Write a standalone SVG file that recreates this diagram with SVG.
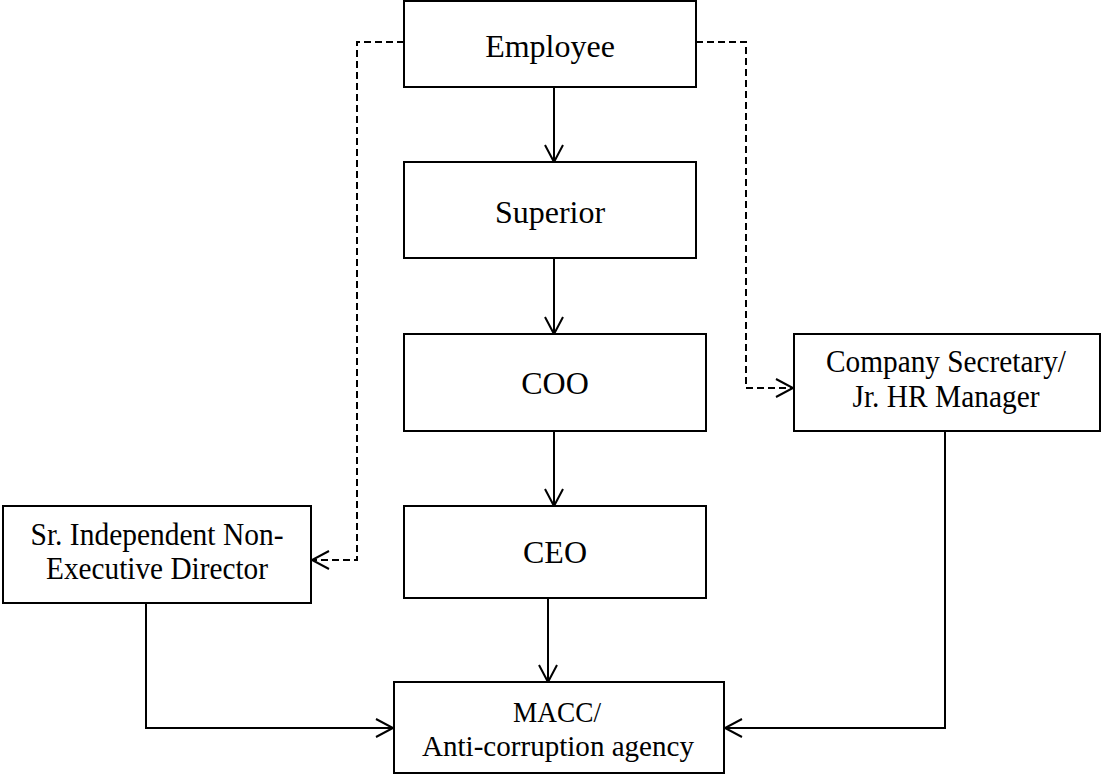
<svg xmlns="http://www.w3.org/2000/svg" width="1102" height="775" viewBox="0 0 1102 775">
<style>
.box{fill:#fff;stroke:#000;stroke-width:2}
.t{font-family:"Liberation Serif","Times New Roman",serif;font-size:32px;fill:#000;text-anchor:middle}
.s{font-size:30px}
.c{fill:none;stroke:#000;stroke-width:2}
.d{stroke-dasharray:7 4}
</style>
<defs>
<marker id="arr" markerUnits="userSpaceOnUse" markerWidth="24" markerHeight="24" viewBox="-20 -12 24 24" refX="0" refY="0" orient="auto">
<path d="M-17,-9 L0,0 L-17,9" fill="none" stroke="#000" stroke-width="2"/>
</marker>
</defs>
<rect width="1102" height="775" fill="#fff"/>
<g id="connectors">
<path class="c" d="M554,87 L554,162" marker-end="url(#arr)"/>
<path class="c" d="M554,258 L554,334" marker-end="url(#arr)"/>
<path class="c" d="M554,431 L554,506" marker-end="url(#arr)"/>
<path class="c" d="M548,598 L548,682" marker-end="url(#arr)"/>
<path class="c d" d="M404,42 L357,42 L357,560 L312,560" marker-end="url(#arr)"/>
<path class="c d" d="M696,42 L746,42 L746,388 L793,388" marker-end="url(#arr)"/>
<path class="c" d="M146,603 L146,728 L393,728" marker-end="url(#arr)"/>
<path class="c" d="M945,431 L945,728 L725,728" marker-end="url(#arr)"/>
</g>
<g id="employee">
<rect class="box" x="404" y="1" width="292" height="86"/>
<text class="t" x="550" y="57">Employee</text>
</g>
<g id="superior">
<rect class="box" x="404" y="162" width="292" height="96"/>
<text class="t" x="550" y="223">Superior</text>
</g>
<g id="coo">
<rect class="box" x="404" y="334" width="302" height="97"/>
<text class="t" x="555" y="394">COO</text>
</g>
<g id="ceo">
<rect class="box" x="404" y="506" width="302" height="92"/>
<text class="t" x="555" y="563">CEO</text>
</g>
<g id="sr-director">
<rect class="box" x="3" y="506" width="308" height="97"/>
<text class="t" x="157" y="545" textLength="253" lengthAdjust="spacingAndGlyphs">Sr. Independent Non-</text>
<text class="t" x="157" y="579" textLength="222" lengthAdjust="spacingAndGlyphs">Executive Director</text>
</g>
<g id="company-secretary">
<rect class="box" x="794" y="334" width="306" height="97"/>
<text class="t" x="946" y="372" textLength="240" lengthAdjust="spacingAndGlyphs">Company Secretary/</text>
<text class="t" x="946" y="407" textLength="187" lengthAdjust="spacingAndGlyphs">Jr. HR Manager</text>
</g>
<g id="macc">
<rect class="box" x="394" y="682" width="330" height="91"/>
<text class="t s" x="557" y="722" textLength="88" lengthAdjust="spacingAndGlyphs">MACC/</text>
<text class="t s" x="558" y="756" textLength="272" lengthAdjust="spacingAndGlyphs">Anti-corruption agency</text>
</g>
</svg>
